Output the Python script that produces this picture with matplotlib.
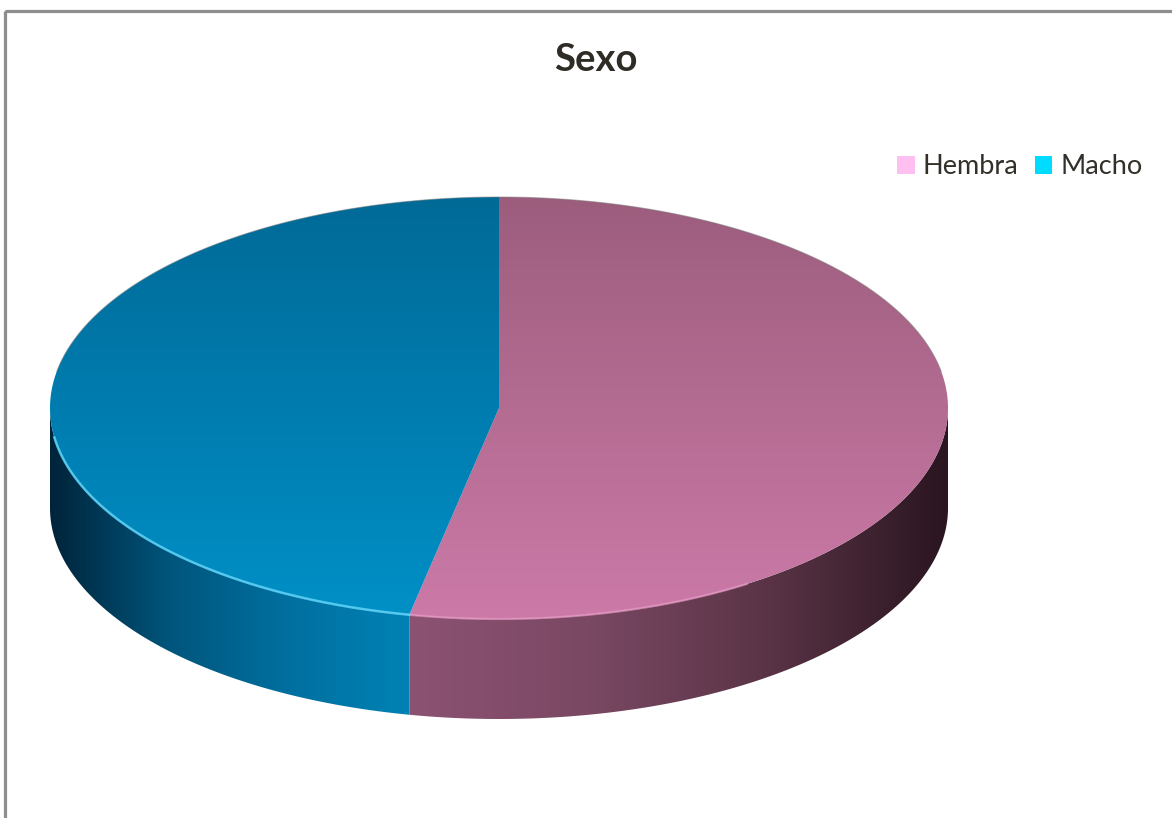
import numpy as np
import matplotlib.pyplot as plt
from matplotlib.patches import Polygon, Rectangle, Patch
from matplotlib.colors import LinearSegmentedColormap

# data
labels = ["Hembra", "Macho"]
values = [53.2, 46.8]
legend_colors = ["#ffbff0", "#00dcff"]

# shading stops for each slice (top face goes top->bottom, side goes left->right)
top_colors = [["#9c5d7d", "#b46c92", "#cc7aa8"],
              ["#006a97", "#007caf", "#0090c6"]]
side_colors = [["#8c5272", "#7a4863", "#5a3446", "#2a1520"],
               ["#00243a", "#00557c", "#0070a0", "#0082b4"]]
rim_colors = ["#e79ac6", "#5ccff5"]

W, H = 1172, 818
cx, cy, rx, ry, depth = 499, 408, 449, 211, 100


def rim(a0, a1, dy=0, n=300):
    t = np.radians(np.linspace(a0, a1, n))
    return np.column_stack([cx + rx * np.sin(t), cy - ry * np.cos(t) + dy])


def fill_gradient(ax, verts, colors, horizontal, zorder):
    poly = Polygon(verts, closed=True, facecolor="none", edgecolor="none")
    ax.add_patch(poly)
    x0, y0 = verts.min(axis=0)
    x1, y1 = verts.max(axis=0)
    g = np.linspace(0, 1, 256)
    img = g[None, :] if horizontal else g[:, None]
    cmap = LinearSegmentedColormap.from_list("shade", colors)
    im = ax.imshow(img, cmap=cmap, extent=(x0, x1, y1, y0), aspect="auto",
                   interpolation="bilinear", zorder=zorder)
    im.set_clip_path(poly)


fig = plt.figure(figsize=(W / 100, H / 100), dpi=100)
ax = fig.add_axes([0, 0, 1, 1])

# slice angles, clockwise from 12 o'clock
fracs = np.array(values) / sum(values)
edges = np.concatenate([[0], np.cumsum(fracs) * 360])

for i in range(len(values)):
    a0, a1 = edges[i], edges[i + 1]
    # visible front wall
    lo, hi = max(a0, 90), min(a1, 270)
    if hi > lo:
        side = np.vstack([rim(lo, hi), rim(hi, lo, dy=depth)])
        fill_gradient(ax, side, side_colors[i], True, 2)
    top = np.vstack([[cx, cy], rim(a0, a1)])
    fill_gradient(ax, top, top_colors[i], False, 3)

# soft highlight along the front rim
hl = rim(edges[1] - 45, edges[1])
ax.plot(hl[:, 0], hl[:, 1], color=rim_colors[0], lw=1.6, alpha=0.7, zorder=4)
hl = rim(edges[1], 262)
ax.plot(hl[:, 0], hl[:, 1], color=rim_colors[1], lw=1.8, alpha=0.9, zorder=4)
back = rim(-80, 80)
ax.plot(back[:, 0], back[:, 1], color="#7a7a7a", lw=0.8, alpha=0.5, zorder=4)

# chart frame
ax.add_patch(Rectangle((5, 11), W, H, fill=False, edgecolor="#8e8e8e",
                       lw=2.3, zorder=5))

ax.text(596, 60, "Sexo", ha="center", va="center", fontsize=27.5,
        fontweight="bold", family="Lato", color="#2f2c25")

handles = [Patch(facecolor=c, edgecolor="none") for c in legend_colors]
ax.legend(handles, labels, loc="center left",
          bbox_to_anchor=(897 / W, 1 - 167 / H), ncol=2, frameon=False,
          prop={"family": "Lato", "size": 19.5}, labelcolor="#33302a",
          handlelength=0.65, handleheight=0.65, handletextpad=0.3,
          columnspacing=0.6, borderpad=0, borderaxespad=0)

ax.set_xlim(0, W)
ax.set_ylim(H, 0)
ax.axis("off")
fig.savefig("out.png", dpi=100, facecolor="white")
